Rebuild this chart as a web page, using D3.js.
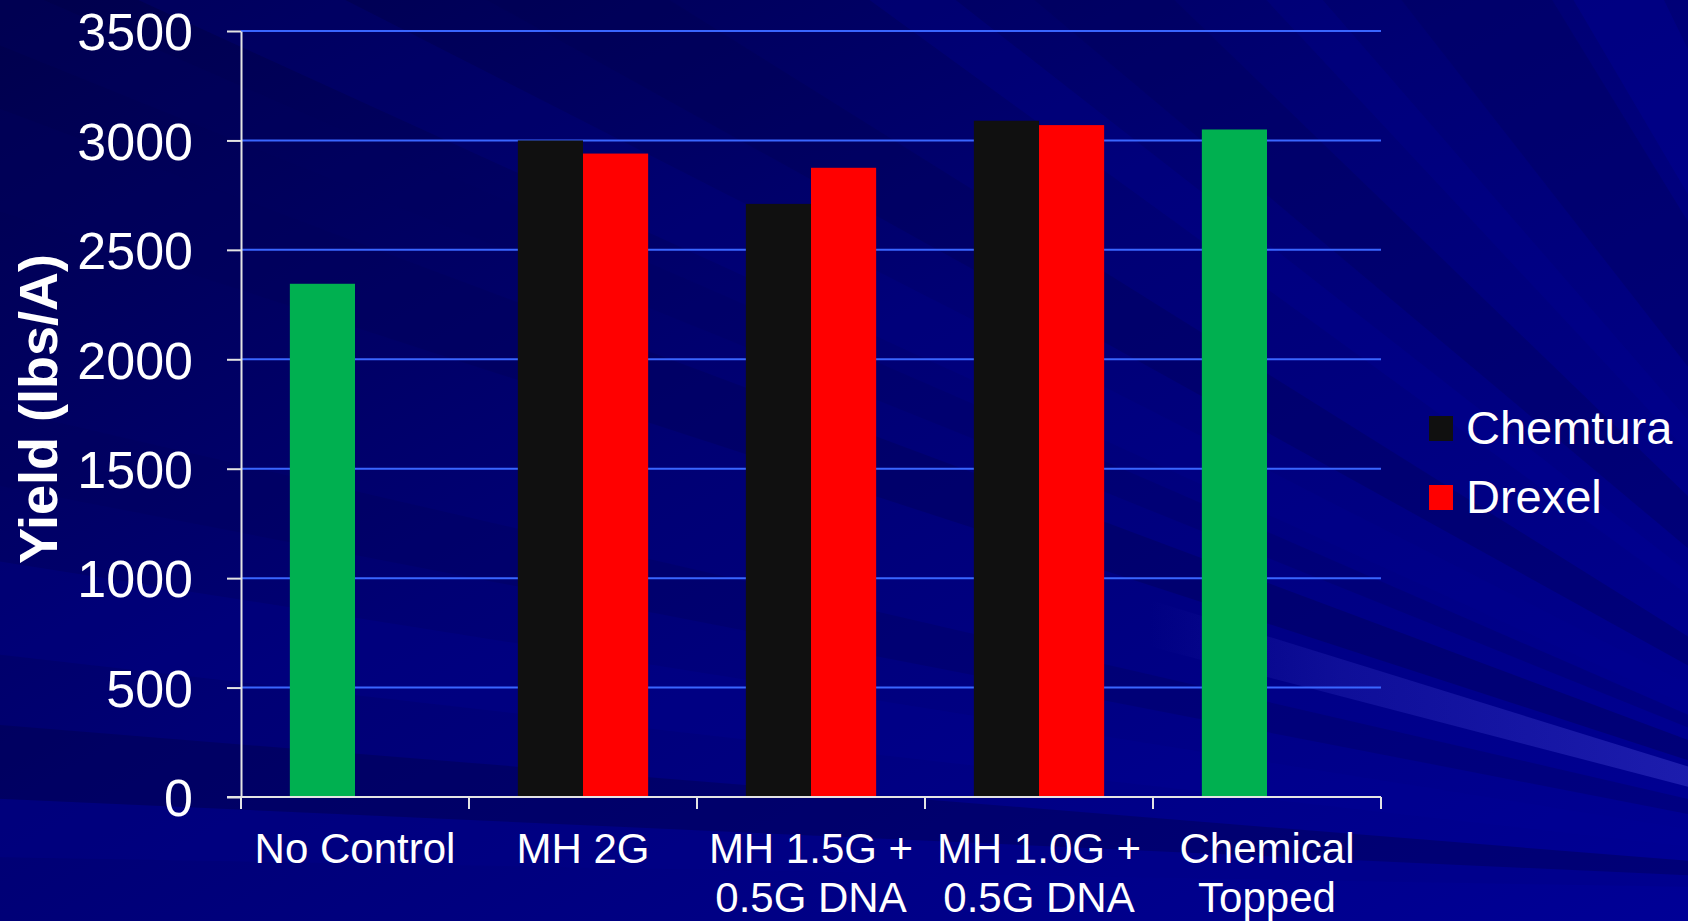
<!DOCTYPE html>
<html>
<head>
<meta charset="utf-8">
<script src="https://cdn.jsdelivr.net/npm/d3@7"></script>
<style>
  html, body { margin: 0; padding: 0; background: #00007a; overflow: hidden; }
  svg { display: block; }
  text { font-family: "Liberation Sans", Arial, Helvetica, sans-serif; fill: #ffffff; }
</style>
</head>
<body>
<svg id="chart" width="1688" height="921"></svg>
<script>
// Treatments along the x axis (wrapped lines for the tick labels)
const categories = ["No Control", "MH 2G", "MH 1.5G + 0.5G DNA", "MH 1.0G + 0.5G DNA", "Chemical Topped"];
const categoryLines = [["No Control"], ["MH 2G"], ["MH 1.5G +", "0.5G DNA"], ["MH 1.0G +", "0.5G DNA"], ["Chemical", "Topped"]];

// Yield by product source (lbs/A); check treatments have a single bar
const seriesNames = ["Chemtura", "Drexel"];
const chemtura = [2345, 3000, 2710, 3090, 3050];
const drexel = [null, 2940, 2875, 3070, null];
const checkTreatments = ["No Control", "Chemical Topped"];

const yTicks = [0, 500, 1000, 1500, 2000, 2500, 3000, 3500];

const W = 1688, H = 921;
const plot = { left: 241, right: 1381, top: 31, bottom: 797 };
const colors = { Chemtura: "#101010", Drexel: "#ff0000", check: "#00b050" };

const svg = d3.select("#chart");
const defs = svg.append("defs");

// ---------- slide background: navy with a fan of soft rays ----------
const bgGrad = defs.append("linearGradient").attr("id", "bgGrad")
  .attr("x1", "0").attr("y1", "0").attr("x2", "1").attr("y2", "1");
bgGrad.append("stop").attr("offset", "0%").attr("stop-color", "#00004c");
bgGrad.append("stop").attr("offset", "45%").attr("stop-color", "#000074");
bgGrad.append("stop").attr("offset", "100%").attr("stop-color", "#000096");
svg.append("rect").attr("width", W).attr("height", H).attr("fill", "url(#bgGrad)");

const rayCenter = [2100, 894];
const rays = [
  { a0: 1.0, a1: 2.6, color: "#000088", op: 0.45 },
  { a0: 2.6, a1: 4.6, color: "#00004c", op: 0.40 },
  { a0: 6.5, a1: 9.0, color: "#000096", op: 0.25 },
  { a0: 11.0, a1: 13.0, color: "#00005a", op: 0.30 },
  { a0: 14.6, a1: 17.2, color: "#2a2ab8", op: 0.55, fade: true },
  { a0: 18.0, a1: 20.5, color: "#00005a", op: 0.45 },
  { a0: 22.0, a1: 23.5, color: "#000060", op: 0.30 },
  { a0: 24.5, a1: 27.0, color: "#000096", op: 0.20 },
  { a0: 29.0, a1: 32.0, color: "#000050", op: 0.30 },
  { a0: 36.0, a1: 38.0, color: "#0000a0", op: 0.22 },
  { a0: 40.0, a1: 44.0, color: "#000058", op: 0.35 },
  { a0: 47.0, a1: 49.0, color: "#00009c", op: 0.22 },
  { a0: 52.0, a1: 58.5, color: "#00005c", op: 0.35 },
  { a0: 59.5, a1: 64.0, color: "#0000a0", op: 0.28 }
];
const fadeGrad = defs.append("linearGradient").attr("id", "rayFade")
  .attr("gradientUnits", "userSpaceOnUse")
  .attr("x1", 1150).attr("y1", 0).attr("x2", 1688).attr("y2", 0);
fadeGrad.append("stop").attr("offset", "0%").attr("stop-color", "#2a2ab8").attr("stop-opacity", 0);
fadeGrad.append("stop").attr("offset", "35%").attr("stop-color", "#2a2ab8").attr("stop-opacity", 0.35);
fadeGrad.append("stop").attr("offset", "100%").attr("stop-color", "#3030c0").attr("stop-opacity", 0.6);

const reach = 3000;
const rayPoint = a => {
  const r = a * Math.PI / 180;
  return [rayCenter[0] - reach * Math.cos(r), rayCenter[1] - reach * Math.sin(r)];
};
svg.append("g").attr("class", "rays")
  .selectAll("path").data(rays).join("path")
  .attr("d", d => {
    const p0 = rayPoint(d.a0), p1 = rayPoint(d.a1);
    return `M${rayCenter[0]},${rayCenter[1]}L${p0[0]},${p0[1]}L${p1[0]},${p1[1]}Z`;
  })
  .attr("fill", d => d.fade ? "url(#rayFade)" : d.color)
  .attr("fill-opacity", d => d.fade ? 1 : d.op);

// ---------- scales ----------
const x = d3.scaleBand().domain(categories).range([plot.left, plot.right]).paddingInner(0).paddingOuter(0);
const xs = d3.scaleBand().domain(seriesNames).range([0, x.bandwidth()]).paddingInner(0).paddingOuter(0.75);
const y = d3.scaleLinear().domain([0, 3500]).range([plot.bottom, plot.top]);

// ---------- gridlines ----------
svg.append("g").attr("class", "grid")
  .selectAll("line").data(yTicks.filter(t => t > 0)).join("line")
  .attr("x1", plot.left).attr("x2", plot.right)
  .attr("y1", d => y(d)).attr("y2", d => y(d))
  .attr("stroke", "#3a66ff").attr("stroke-width", 2);

// ---------- bars ----------
const rows = categories.map((c, i) => ({ category: c, Chemtura: chemtura[i], Drexel: drexel[i] }));
const barData = [];
rows.forEach(r => seriesNames.forEach(s => {
  if (r[s] != null) barData.push({ category: r.category, series: s, value: r[s] });
}));
svg.append("g").attr("class", "bars")
  .selectAll("rect").data(barData).join("rect")
  .attr("x", d => x(d.category) + xs(d.series))
  .attr("width", xs.bandwidth())
  .attr("y", d => y(d.value))
  .attr("height", d => y(0) - y(d.value))
  .attr("fill", d => checkTreatments.includes(d.category) ? colors.check : colors[d.series]);

// ---------- y axis ----------
const yAxis = svg.append("g").attr("class", "y-axis")
  .attr("transform", `translate(${plot.left},0)`)
  .call(d3.axisLeft(y).tickValues(yTicks).tickFormat(d3.format("d"))
    .tickSizeInner(14).tickSizeOuter(0).tickPadding(34));
yAxis.select(".domain").attr("stroke", "#e4e4e4").attr("stroke-width", 2);
yAxis.selectAll(".tick line").attr("stroke", "#e4e4e4").attr("stroke-width", 2);
yAxis.selectAll(".tick text")
  .attr("fill", "#ffffff").attr("font-size", 52)
  .attr("font-family", "'Liberation Sans', Arial, sans-serif")
  .attr("dy", "0.36em");

// ---------- x axis ----------
const xAxis = svg.append("g").attr("class", "x-axis")
  .attr("transform", `translate(0,${plot.bottom})`);
xAxis.append("line")
  .attr("x1", plot.left - 14).attr("x2", plot.right)
  .attr("y1", 0).attr("y2", 0)
  .attr("stroke", "#e4e4e4").attr("stroke-width", 2);
const boundaries = categories.map(c => x(c)).concat([x.range()[1]]);
xAxis.selectAll("line.tick").data(boundaries).join("line")
  .attr("class", "tick")
  .attr("x1", d => d).attr("x2", d => d)
  .attr("y1", 0).attr("y2", 12)
  .attr("stroke", "#e4e4e4").attr("stroke-width", 2);
const labels = xAxis.selectAll("text.cat").data(categories).join("text")
  .attr("class", "cat")
  .attr("x", d => x(d) + x.bandwidth() / 2)
  .attr("y", 66)
  .attr("text-anchor", "middle")
  .attr("font-size", 42);
labels.selectAll("tspan").data((d, i) => categoryLines[i]).join("tspan")
  .attr("x", function () { return d3.select(this.parentNode).attr("x"); })
  .attr("dy", (d, i) => i === 0 ? 0 : 49)
  .text(d => d);

// ---------- y axis title ----------
svg.append("text")
  .attr("transform", `translate(57,${(plot.top + plot.bottom) / 2 - 5}) rotate(-90)`)
  .attr("text-anchor", "middle")
  .attr("font-size", 54)
  .attr("font-weight", "bold")
  .text("Yield (lbs/A)");

// ---------- legend ----------
const legend = svg.append("g").attr("class", "legend")
  .attr("transform", "translate(1429,416)");
const items = legend.selectAll("g").data(seriesNames).join("g")
  .attr("transform", (d, i) => `translate(0,${i * 69})`);
items.append("rect").attr("width", 24).attr("height", 25).attr("fill", d => colors[d]);
items.append("text").attr("x", 37).attr("y", 28).attr("font-size", 47).text(d => d);
</script>
</body>
</html>
